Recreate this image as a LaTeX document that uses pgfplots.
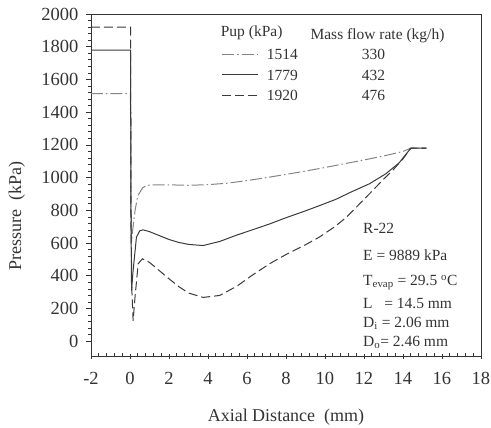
\documentclass[border=0pt]{standalone}
\usepackage{pgfplots}
\pgfplotsset{compat=1.18}
\usepackage{fontspec}
\setmainfont{Liberation Serif}

\definecolor{ink}{HTML}{333333}
\definecolor{lineA}{HTML}{858585}
\definecolor{lineB}{HTML}{3A3A3A}

% 1514 kPa, 330 kg/h
\pgfplotstableread{
x y
-2 1514
0.02 1514
0.05 900
0.08 610
0.14 680
0.26 800
0.40 890
0.66 940
1.0 955
2.0 956
3.0 953
4.0 957
5.0 966
6.0 982
7.0 1000
8.0 1020
9.0 1040
10.0 1062
11.0 1085
12.0 1108
13.0 1132
14.0 1160
14.4 1180
15.2 1180
}\pup

% 1779 kPa, 432 kg/h
\pgfplotstableread{
x y
-2 1779
0.03 1779
0.05 800
0.08 310
0.15 420
0.33 636
0.50 675
0.67 681
1.0 670
1.5 646
2.0 622
2.5 604
3.0 592
3.75 585
4.6 610
5.5 650
6.5 690
7.16 717
8.0 755
9.0 797
9.72 829
10.57 868
11.3 910
12.27 962
13.1 1022
13.8 1090
14.4 1180
15.2 1180
}\pmid

% 1920 kPa, 476 kg/h
\pgfplotstableread{
x y
-2 1920
0.03 1920
0.05 700
0.10 300
0.16 125
0.25 260
0.42 474
0.64 504
1.0 482
1.5 432
2.0 382
2.5 334
3.0 295
3.75 268
4.6 280
5.5 338
6.2 398
7.16 474
8.0 530
9.0 590
9.7 636
10.5 700
11.1 758
12.27 900
13.0 990
13.46 1043
14.0 1115
14.4 1180
15.2 1180
}\phigh

\begin{document}
\begin{tikzpicture}
\begin{axis}[
  scale only axis,
  width=390pt, height=342pt,
  xmin=-2, xmax=18, ymin=-90, ymax=2000,
  xtick={-2,0,...,18}, ytick={0,200,...,2000},
  minor x tick num=4, minor y tick num=4,
  xtick pos=bottom, ytick pos=left,
  tick align=outside,
  major tick length=5pt, minor tick length=3pt,
  minor x tick style={yshift=3pt},
  major x tick style={yshift=2pt},
  axis line style={ink, line width=0.9pt},
  tick style={ink, line width=0.7pt},
  every tick label/.append style={ink, font=\fontsize{18.5}{20}\selectfont},
  xticklabel style={yshift=-8pt},
  yticklabel style={xshift=-4pt},
  /pgf/number format/assume math mode=true,
  /pgf/number format/1000 sep={},
  xlabel={Axial Distance\ \ (mm)},
  ylabel={Pressure\ \ (kPa)},
  label style={ink, font=\fontsize{18}{20}\selectfont},
  xlabel style={at={(axis description cs:0.5,0)}, anchor=center, yshift=-61pt},
  ylabel style={at={(axis description cs:-0.19,0.41)}, anchor=center},
  legend image code/.code={\draw[#1] (0pt,0pt) -- (36pt,0pt);},
  legend cell align=left,
  legend style={draw=none, fill=none, inner sep=0pt, at={(axis cs:4.70,1789)}, anchor=north west,
    row sep=9.5pt, column sep=8pt, font=\fontsize{15.5}{17}\selectfont, text=ink,
    nodes={inner sep=0pt, text height=11pt, text depth=0pt}},
]
\addplot[lineA, line width=1pt, dash pattern=on 12pt off 3pt on 1.5pt off 3pt] table[x=x,y=y] {\pup};
\addlegendentry{1514\hspace{64pt}330}
\addplot[lineB, line width=1pt] table[x=x,y=y] {\pmid};
\addlegendentry{1779\hspace{64pt}432}
\addplot[lineB, line width=1pt, dash pattern=on 9pt off 4pt] table[x=x,y=y] {\phigh};
\addlegendentry{1920\hspace{64pt}476}

\node[anchor=west, ink, font=\fontsize{15.5}{17}\selectfont, inner sep=0pt] at (axis cs:4.65,1884) {Pup (kPa)};
\node[anchor=west, ink, font=\fontsize{15.5}{17}\selectfont, inner sep=0pt] at (axis cs:9.25,1870) {Mass flow rate (kg/h)};

\begin{scope}[every node/.style={anchor=base west, ink, inner sep=0pt, font=\fontsize{15.5}{17}\selectfont}]
\node at (axis cs:11.95,659) {R-22};
\node at (axis cs:11.95,494) {E = 9889 kPa};
\node at (axis cs:11.95,342) {T\textsubscript{evap} = 29.5 \textsuperscript{o}C};
\node at (axis cs:11.95,203) {L \ \ = 14.5 mm};
\node at (axis cs:11.95,86) {D\textsubscript{i} = 2.06 mm};
\node at (axis cs:11.95,-30) {D\textsubscript{o}= 2.46 mm};
\end{scope}
\end{axis}
\pgfresetboundingbox
\useasboundingbox ([shift={(-91pt,-72pt)}]current axis.south west) rectangle ([shift={(10pt,14pt)}]current axis.north east);
\end{tikzpicture}
\end{document}
